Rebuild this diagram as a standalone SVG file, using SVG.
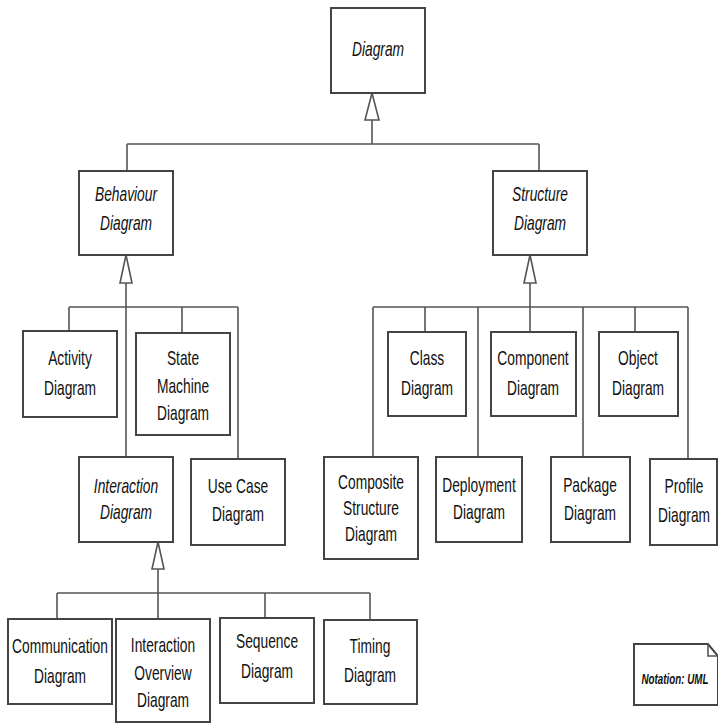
<svg xmlns="http://www.w3.org/2000/svg" width="718" height="723" viewBox="0 0 718 723">
<style>
.box{fill:#fff;stroke:#444;stroke-width:2}
.ln{fill:none;stroke:#555;stroke-width:1.6}
.gen{fill:#fff;stroke:#555;stroke-width:1.6}
text{font-family:"Liberation Sans",Arial,sans-serif;font-size:20px;fill:#111;text-anchor:middle}
.it{font-style:italic}
.note{font-size:14px;font-style:italic;font-weight:bold}
</style>
<rect width="718" height="723" fill="#fff"/>
<g id="connectors">
<path class="ln" d="M372,120V144M127,144H539M127,144V171M539,144V171"/>
<polygon class="gen" points="372,93 365,120 379,120"/>
<path class="ln" d="M126,283V457M69,307H238M69,307V331M182,307V333M238,307V459"/>
<polygon class="gen" points="126,255 120,283 132,283"/>
<path class="ln" d="M530,283V332M373,307H688M373,307V457M425,307V332M478,307V457M583,307V457M635,307V332M688,307V459"/>
<polygon class="gen" points="530,255 524,283 536,283"/>
<path class="ln" d="M158,569V619M57,593H370M57,593V619M265,593V618M370,593V620"/>
<polygon class="gen" points="158,542 152,569 164,569"/>
</g>
<g id="diagram"><rect class="box" x="331" y="8" width="94" height="85"/>
<text class="it" transform="translate(378 0) scale(0.69 1)"><tspan x="0" y="56">Diagram</tspan></text></g>
<g id="behaviour"><rect class="box" x="79" y="171" width="94" height="84"/>
<text class="it" transform="translate(126 0) scale(0.69 1)"><tspan x="0" y="201">Behaviour</tspan><tspan x="0" y="230">Diagram</tspan></text></g>
<g id="structure"><rect class="box" x="493" y="171" width="94" height="84"/>
<text class="it" transform="translate(540 0) scale(0.69 1)"><tspan x="0" y="201">Structure</tspan><tspan x="0" y="230">Diagram</tspan></text></g>
<g id="activity"><rect class="box" x="23" y="331" width="94" height="86"/>
<text transform="translate(70 0) scale(0.69 1)"><tspan x="0" y="365">Activity</tspan><tspan x="0" y="395">Diagram</tspan></text></g>
<g id="statemachine"><rect class="box" x="136" y="333" width="94" height="102"/>
<text transform="translate(183 0) scale(0.69 1)"><tspan x="0" y="365">State</tspan><tspan x="0" y="393">Machine</tspan><tspan x="0" y="420">Diagram</tspan></text></g>
<g id="interaction"><rect class="box" x="79" y="457" width="94" height="85"/>
<text class="it" transform="translate(126 0) scale(0.69 1)"><tspan x="0" y="493">Interaction</tspan><tspan x="0" y="519">Diagram</tspan></text></g>
<g id="usecase"><rect class="box" x="191" y="459" width="94" height="86"/>
<text transform="translate(238 0) scale(0.69 1)"><tspan x="0" y="493">Use  Case</tspan><tspan x="0" y="521">Diagram</tspan></text></g>
<g id="class"><rect class="box" x="388" y="332" width="78" height="84"/>
<text transform="translate(427 0) scale(0.69 1)"><tspan x="0" y="365">Class</tspan><tspan x="0" y="395">Diagram</tspan></text></g>
<g id="component"><rect class="box" x="491" y="332" width="85" height="84"/>
<text transform="translate(533 0) scale(0.69 1)"><tspan x="0" y="365">Component</tspan><tspan x="0" y="395">Diagram</tspan></text></g>
<g id="object"><rect class="box" x="599" y="332" width="79" height="84"/>
<text transform="translate(638 0) scale(0.69 1)"><tspan x="0" y="365">Object</tspan><tspan x="0" y="395">Diagram</tspan></text></g>
<g id="composite"><rect class="box" x="324" y="457" width="94" height="102"/>
<text transform="translate(371 0) scale(0.69 1)"><tspan x="0" y="489">Composite</tspan><tspan x="0" y="515">Structure</tspan><tspan x="0" y="541">Diagram</tspan></text></g>
<g id="deployment"><rect class="box" x="436" y="457" width="86" height="85"/>
<text transform="translate(479 0) scale(0.69 1)"><tspan x="0" y="492">Deployment</tspan><tspan x="0" y="519">Diagram</tspan></text></g>
<g id="package"><rect class="box" x="551" y="457" width="79" height="85"/>
<text transform="translate(590 0) scale(0.69 1)"><tspan x="0" y="492">Package</tspan><tspan x="0" y="520">Diagram</tspan></text></g>
<g id="profile"><rect class="box" x="650" y="459" width="67" height="86"/>
<text transform="translate(684 0) scale(0.69 1)"><tspan x="0" y="493">Profile</tspan><tspan x="0" y="522">Diagram</tspan></text></g>
<g id="communication"><rect class="box" x="8" y="619" width="104" height="85"/>
<text transform="translate(60 0) scale(0.69 1)"><tspan x="0" y="653">Communication</tspan><tspan x="0" y="683">Diagram</tspan></text></g>
<g id="interactionoverview"><rect class="box" x="116" y="619" width="94" height="103"/>
<text transform="translate(163 0) scale(0.69 1)"><tspan x="0" y="652">Interaction</tspan><tspan x="0" y="680">Overview</tspan><tspan x="0" y="707">Diagram</tspan></text></g>
<g id="sequence"><rect class="box" x="220" y="618" width="94" height="85"/>
<text transform="translate(267 0) scale(0.69 1)"><tspan x="0" y="648">Sequence</tspan><tspan x="0" y="678">Diagram</tspan></text></g>
<g id="timing"><rect class="box" x="324" y="620" width="93" height="84"/>
<text transform="translate(370 0) scale(0.69 1)"><tspan x="0" y="653">Timing</tspan><tspan x="0" y="682">Diagram</tspan></text></g>
<g id="note"><path class="box" d="M634,644H708L718,656V705H634Z"/>
<path class="ln" d="M708,644V656H718"/>
<text class="note" transform="translate(675 0) scale(0.7 1)"><tspan x="0" y="684">Notation: UML</tspan></text></g>
</svg>
